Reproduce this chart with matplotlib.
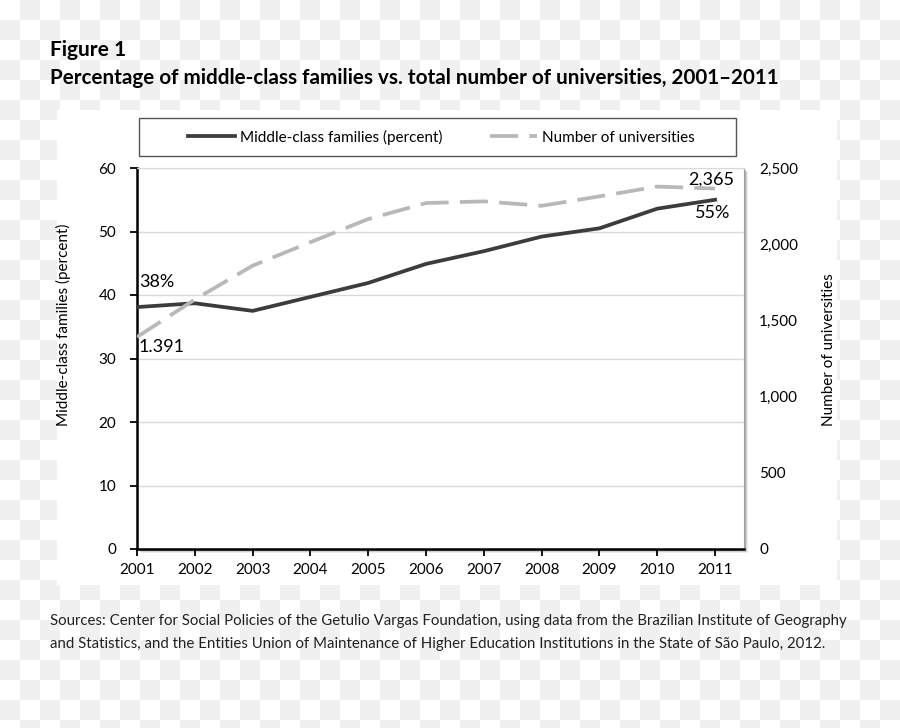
import matplotlib.pyplot as plt
import numpy as np
from matplotlib.colors import ListedColormap
from matplotlib.patches import Rectangle
from matplotlib.lines import Line2D

plt.rcParams['font.family'] = ['Lato', 'DejaVu Sans']

# ── Data ──
years = list(range(2001, 2012))
middle_class = [38.1, 38.7, 37.5, 39.7, 41.9, 44.9, 46.9, 49.2, 50.5, 53.6, 55.0]
universities = [1391, 1637, 1859, 2013, 2165, 2270, 2281, 2252, 2314, 2378, 2365]
left_ticks = [0, 10, 20, 30, 40, 50, 60]
right_ticks = [0, 500, 1000, 1500, 2000, 2500]

DARK = '#3c3c3c'
LIGHT = '#b8b8b8'
GRID = '#d9d9d9'

W, H = 900, 728
fig = plt.figure(figsize=(W / 100, H / 100), dpi=100)

# ── Checkerboard (transparent-look) background, pixel coords ──
bg = fig.add_axes([0, 0, 1, 1], zorder=-10)
bg.axis('off')
rows, cols = int(np.ceil(H / 20)), int(np.ceil(W / 20))
ii, jj = np.indices((rows, cols))
bg.imshow((ii + jj) % 2, cmap=ListedColormap(['white', '#f0f0f0']),
          extent=(0, cols * 20, rows * 20, 0), interpolation='nearest')
bg.set_xlim(0, W)
bg.set_ylim(H, 0)
bg.add_patch(Rectangle((57, 110), 780, 475, facecolor='white', edgecolor='none'))

# plot area shadow
for k, a in zip([4, 3, 2], [0.15, 0.25, 0.35]):
    bg.add_patch(Rectangle((137 + k, 168 + k), 607, 381,
                           facecolor='#808080', edgecolor='none', alpha=a))

# legend frame
bg.add_patch(Rectangle((139, 118), 597, 38, facecolor='white',
                       edgecolor='#555555', lw=1))

# ── Main axes ──
x0, x1, y0, y1 = 137, 744, 168, 549
ax = fig.add_axes([x0 / W, 1 - y1 / H, (x1 - x0) / W, (y1 - y0) / H])
ax.set_facecolor('white')
ax.plot(years, middle_class, color=DARK, lw=2.7, solid_joinstyle='round', zorder=3)
ax.set_xlim(2001, 2011.5)
ax.set_ylim(0, 60)
ax.set_yticks(left_ticks)
ax.set_xticks(years)
ax.grid(axis='y', color=GRID, lw=1)
ax.set_axisbelow(True)
ax.tick_params(axis='both', labelsize=11, color='black', width=1.3, length=5,
               direction='out')
ax.tick_params(axis='y', pad=10)
ax.tick_params(axis='x', pad=5)
for s in ['left', 'bottom']:
    ax.spines[s].set_color('black')
    ax.spines[s].set_linewidth(1.8)
ax.spines['top'].set_color(GRID)
ax.spines['right'].set_color('#a0a0a0')

ax2 = ax.twinx()
ax2.plot(years, universities, color=LIGHT, lw=2.7, dashes=(7.5, 3), zorder=2)
ax2.set_ylim(0, 2500)
ax2.set_yticks(right_ticks)
ax2.set_yticklabels([f'{v:,}' for v in right_ticks])
ax2.tick_params(axis='y', labelsize=11, length=0, pad=11)
for s in ax2.spines.values():
    s.set_visible(False)

# ── Annotations ──
ax.text(2001.04, 42.0, '38%', fontsize=13, va='center', ha='left')
ax.text(2001.02, 31.8, '1.391', fontsize=13, va='center', ha='left')
ax.text(2010.93, 58.1, '2,365', fontsize=13, va='center', ha='center')
ax.text(2011.27, 52.9, '55%', fontsize=13, va='center', ha='right')

# ── Legend ──
handles = [Line2D([], [], color=DARK, lw=2.7),
           Line2D([], [], color=LIGHT, lw=2.7, dashes=(7.5, 3))]
fig.legend(handles, ['Middle-class families (percent)', 'Number of universities'],
           loc='center', bbox_to_anchor=(441 / W, 1 - 137 / H), ncol=2,
           frameon=False, fontsize=11, handlelength=3.1, handletextpad=0.3,
           columnspacing=3.1)

# ── Axis titles ──
fig.text(63 / W, 1 - 325 / H, 'Middle-class families (percent)', rotation=90,
         ha='center', va='center', fontsize=11)
fig.text(829 / W, 1 - 350 / H, 'Number of universities', rotation=90,
         ha='center', va='center', fontsize=11)

# ── Titles ──
fig.text(50 / W, 1 - 50 / H, 'Figure 1', fontsize=15, fontweight='bold',
         ha='left', va='center')
fig.text(50 / W, 1 - 78 / H,
         'Percentage of middle-class families vs. total number of universities, 2001\u20132011',
         fontsize=14.9, fontweight='bold', ha='left', va='center')

# ── Sources ──
fig.text(50 / W, 1 - 621 / H,
         'Sources: Center for Social Policies of the Getulio Vargas Foundation, using data from the Brazilian Institute of Geography',
         fontsize=10.8, ha='left', va='center', color='#222222')
fig.text(50 / W, 1 - 644 / H,
         'and Statistics, and the Entities Union of Maintenance of Higher Education Institutions in the State of S\u00e3o Paulo, 2012.',
         fontsize=10.8, ha='left', va='center', color='#222222')

fig.savefig('out.png', dpi=100)
